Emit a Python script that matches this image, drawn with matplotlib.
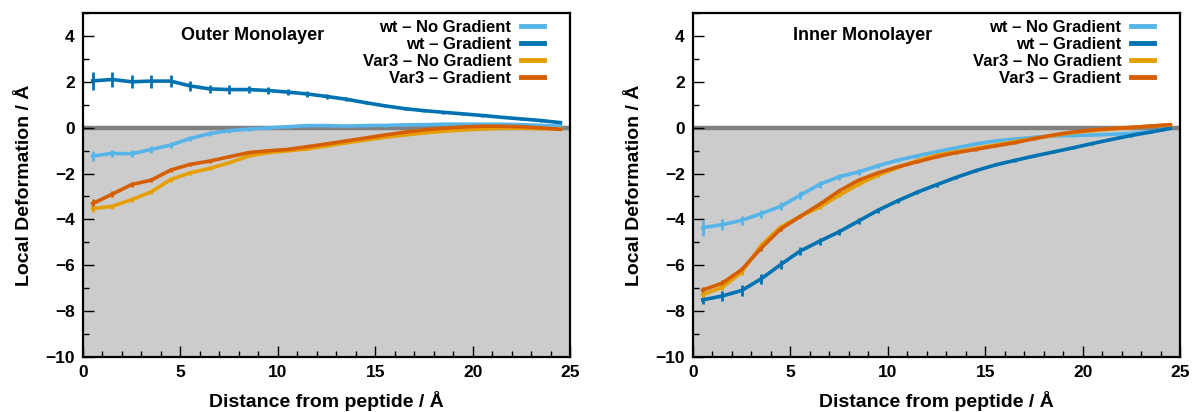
import matplotlib
matplotlib.use("Agg")
import matplotlib.pyplot as plt
from matplotlib.ticker import MultipleLocator

plt.rcParams['font.family'] = ['Liberation Sans', 'DejaVu Sans']
plt.rcParams['font.weight'] = 'bold'

distance = [0.5 + i for i in range(25)]
series_names = ["wt – No Gradient", "wt – Gradient", "Var3 – No Gradient", "Var3 – Gradient"]
colors = ["#56B4E9", "#0072B2", "#E69F00", "#D55E00"]

outer_wt_nograd = [-1.24, -1.12, -1.14, -0.95, -0.76, -0.47, -0.26, -0.13, -0.07, -0.01, 0.04, 0.09, 0.09,
                   0.07, 0.09, 0.10, 0.12, 0.13, 0.15, 0.15, 0.15, 0.15, 0.13, 0.10, 0.07]
outer_wt_grad = [2.04, 2.10, 2.00, 2.03, 2.03, 1.82, 1.69, 1.66, 1.66, 1.62, 1.55, 1.47, 1.36,
                 1.24, 1.09, 0.95, 0.83, 0.74, 0.67, 0.60, 0.53, 0.45, 0.38, 0.31, 0.22]
outer_var3_nograd = [-3.53, -3.43, -3.14, -2.80, -2.26, -1.97, -1.78, -1.53, -1.24, -1.09, -1.01, -0.93, -0.80,
                     -0.66, -0.54, -0.42, -0.32, -0.23, -0.16, -0.10, -0.06, -0.03, -0.03, -0.04, -0.07]
outer_var3_grad = [-3.31, -2.90, -2.48, -2.29, -1.85, -1.60, -1.46, -1.27, -1.09, -1.01, -0.95, -0.83, -0.71,
                   -0.58, -0.45, -0.32, -0.20, -0.10, -0.03, 0.03, 0.06, 0.06, 0.04, -0.01, -0.07]

inner_wt_nograd = [-4.36, -4.23, -4.04, -3.75, -3.43, -2.95, -2.47, -2.14, -1.93, -1.66, -1.42, -1.23, -1.05,
                   -0.88, -0.71, -0.58, -0.50, -0.42, -0.36, -0.34, -0.32, -0.29, -0.25, -0.18, -0.03]
inner_wt_grad = [-7.51, -7.34, -7.10, -6.59, -5.97, -5.38, -4.95, -4.54, -4.07, -3.60, -3.19, -2.82, -2.49,
                 -2.17, -1.88, -1.63, -1.43, -1.24, -1.06, -0.88, -0.69, -0.51, -0.34, -0.19, -0.03]
inner_var3_nograd = [-7.28, -6.96, -6.30, -5.13, -4.33, -3.87, -3.46, -2.95, -2.47, -2.07, -1.74, -1.44, -1.20,
                     -1.05, -0.90, -0.76, -0.61, -0.47, -0.34, -0.22, -0.13, -0.06, 0.01, 0.07, 0.12]
inner_var3_grad = [-7.08, -6.78, -6.19, -5.25, -4.42, -3.87, -3.34, -2.76, -2.29, -1.97, -1.71, -1.49, -1.27,
                   -1.09, -0.95, -0.80, -0.66, -0.48, -0.32, -0.19, -0.10, -0.04, 0.01, 0.07, 0.13]

outer_err_wt_nograd = [0.22, 0.15, 0.15, 0.15, 0.14, 0.12, 0.10, 0.09, 0.08, 0.08, 0.07, 0.07, 0.06,
                       0.06, 0.06, 0.05, 0.05, 0.05, 0.05, 0.05, 0.05, 0.05, 0.05, 0.05, 0.05]
outer_err_wt_grad = [0.38, 0.32, 0.28, 0.28, 0.26, 0.22, 0.18, 0.18, 0.16, 0.15, 0.13, 0.12, 0.10,
                     0.09, 0.08, 0.07, 0.07, 0.06, 0.06, 0.06, 0.06, 0.05, 0.05, 0.05, 0.05]
outer_err_var3_nograd = [0.15, 0.12, 0.10, 0.10, 0.09, 0.08, 0.07, 0.07, 0.06, 0.06, 0.05, 0.05, 0.05,
                         0.05, 0.05, 0.05, 0.05, 0.05, 0.05, 0.05, 0.05, 0.05, 0.05, 0.05, 0.05]
outer_err_var3_grad = [0.22, 0.12, 0.10, 0.10, 0.09, 0.08, 0.07, 0.07, 0.06, 0.06, 0.05, 0.05, 0.05,
                       0.05, 0.05, 0.05, 0.05, 0.05, 0.05, 0.05, 0.05, 0.05, 0.05, 0.05, 0.05]

inner_err_wt_nograd = [0.35, 0.25, 0.20, 0.18, 0.18, 0.18, 0.15, 0.13, 0.12, 0.10, 0.09, 0.08, 0.07,
                       0.07, 0.06, 0.06, 0.05, 0.05, 0.05, 0.05, 0.05, 0.05, 0.05, 0.05, 0.05]
inner_err_wt_grad = [0.20, 0.20, 0.22, 0.22, 0.20, 0.18, 0.15, 0.13, 0.12, 0.11, 0.10, 0.09, 0.08,
                     0.07, 0.07, 0.06, 0.06, 0.05, 0.05, 0.05, 0.05, 0.05, 0.05, 0.05, 0.05]
inner_err_var3_nograd = [0.15, 0.12, 0.12, 0.12, 0.10, 0.09, 0.08, 0.07, 0.06, 0.06, 0.05, 0.05, 0.05,
                         0.05, 0.05, 0.05, 0.05, 0.05, 0.05, 0.05, 0.05, 0.05, 0.05, 0.05, 0.05]
inner_err_var3_grad = [0.12, 0.12, 0.12, 0.12, 0.10, 0.09, 0.08, 0.07, 0.06, 0.06, 0.05, 0.05, 0.05,
                       0.05, 0.05, 0.05, 0.05, 0.05, 0.05, 0.05, 0.05, 0.05, 0.05, 0.05, 0.05]

panels = [
    ("Outer Monolayer", [outer_wt_nograd, outer_wt_grad, outer_var3_nograd, outer_var3_grad],
     [outer_err_wt_nograd, outer_err_wt_grad, outer_err_var3_nograd, outer_err_var3_grad]),
    ("Inner Monolayer", [inner_wt_nograd, inner_wt_grad, inner_var3_nograd, inner_var3_grad],
     [inner_err_wt_nograd, inner_err_wt_grad, inner_err_var3_nograd, inner_err_var3_grad]),
]

fig = plt.figure(figsize=(11.94, 4.12), dpi=100)
axes_pos = [[0.0695, 0.1335, 0.408, 0.835], [0.5804, 0.1335, 0.408, 0.835]]

for pos, (title, ys, errs) in zip(axes_pos, panels):
    ax = fig.add_axes(pos)
    ax.set_xlim(0, 25)
    ax.set_ylim(-10, 5)
    ax.axhspan(-10, 0, color="#cccccc", zorder=0, lw=0)
    ax.axhline(0, color="#808080", lw=3.2, zorder=1)
    handles = []
    for name, c, y, e in zip(series_names, colors, ys, errs):
        ax.errorbar(distance, y, yerr=e, color=c, lw=2.6, elinewidth=2.0, capsize=0, zorder=3)
        h, = ax.plot([], [], color=c, lw=3.5, label=name)
        handles.append(h)
    leg = ax.legend(handles=handles, loc="upper right", frameon=False, markerfirst=False,
                    fontsize=12, handlelength=1.35, handletextpad=0.6, labelspacing=0.12,
                    borderaxespad=0.0, bbox_to_anchor=(0.96, 1.0))
    for t in leg.get_texts():
        t.set_fontweight("bold")
    ax.text(8.7, 4.0, title, ha="center", va="center", fontsize=13, fontweight="bold")
    ax.xaxis.set_major_locator(MultipleLocator(5))
    ax.xaxis.set_minor_locator(MultipleLocator(1))
    ax.yaxis.set_minor_locator(MultipleLocator(1))
    ax.set_yticks([4, 2, 0, -2, -4, -6, -8, -10])
    ax.tick_params(which="both", direction="in", top=False, right=False, labelsize=12.5, width=1.0)
    ax.tick_params(which="major", length=8, pad=6)
    ax.tick_params(which="minor", length=4)
    for lbl in ax.get_xticklabels() + ax.get_yticklabels():
        lbl.set_fontweight("bold")
    for s in ax.spines.values():
        s.set_linewidth(1.6)
        s.set_zorder(5)
    ax.set_xlabel("Distance from peptide / Å", fontsize=14, fontweight="bold", labelpad=8)
    ax.set_ylabel("Local Deformation / Å", fontsize=14, fontweight="bold", labelpad=9)

fig.savefig("out.png", dpi=100)
